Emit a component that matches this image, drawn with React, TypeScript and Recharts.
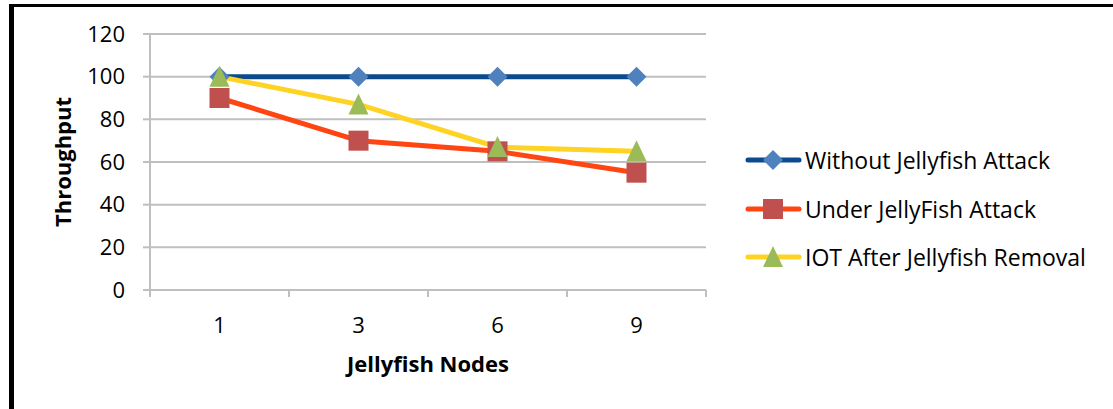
import { CartesianGrid, Legend, Line, LineChart, XAxis, YAxis } from "recharts";

const nodes = ["1", "3", "6", "9"];
const withoutAttack = [100, 100, 100, 100];
const underAttack = [90, 70, 65, 55];
const afterRemoval = [100, 87, 67, 65];
const yTicks = [0, 20, 40, 60, 80, 100, 120];

const series = [
  { key: "without", name: "Without Jellyfish Attack", values: withoutAttack, line: "#0C4A8E", marker: "#4F81BD", shape: "diamond" },
  { key: "under", name: "Under JellyFish Attack", values: underAttack, line: "#FF4612", marker: "#C0504D", shape: "square" },
  { key: "after", name: "IOT After Jellyfish Removal", values: afterRemoval, line: "#FFD324", marker: "#9BBB59", shape: "triangle" }
];

const data = nodes.map((node, i) => ({
  node,
  without: withoutAttack[i],
  under: underAttack[i],
  after: afterRemoval[i]
}));

const font = "'Open Sans', Lato, sans-serif";
const fontSize = 22;
const gridColor = "#BFBFBF";

function Marker({ cx, cy, shape, fill }: { cx: number; cy: number; shape: string; fill: string }) {
  if (shape === "diamond") {
    return <polygon points={`${cx},${cy - 10} ${cx + 10},${cy} ${cx},${cy + 10} ${cx - 10},${cy}`} fill={fill} />;
  }
  if (shape === "square") {
    return <rect x={cx - 10} y={cy - 10} width={20} height={20} fill={fill} />;
  }
  return <polygon points={`${cx},${cy - 11} ${cx + 10},${cy + 10} ${cx - 10},${cy + 10}`} fill={fill} />;
}

function NodeTick(props: any) {
  const { x, y, payload, index, visibleTicksCount } = props;
  const half = payload.offset ?? 0;
  const axisY = y - 8;
  return (
    <g>
      <line x1={x - half} x2={x - half} y1={axisY} y2={axisY + 7} stroke={gridColor} strokeWidth={2} />
      {index === visibleTicksCount - 1 && (
        <line x1={x + half} x2={x + half} y1={axisY} y2={axisY + 7} stroke={gridColor} strokeWidth={2} />
      )}
      <text x={x} y={axisY + 34} textAnchor="middle" dominantBaseline="central" fontSize={fontSize} fill="#000" fontFamily={font}>
        {payload.value}
      </text>
    </g>
  );
}

function YTitle(props: any) {
  const { viewBox } = props;
  const cx = viewBox.x + 22;
  const cy = viewBox.y + viewBox.height / 2;
  return (
    <text
      x={cx}
      y={cy}
      transform={`rotate(-90, ${cx}, ${cy})`}
      textAnchor="middle"
      dominantBaseline="central"
      fontSize={fontSize}
      fontWeight="bold"
      fontFamily={font}
      fill="#000"
    >
      Throughput
    </text>
  );
}

function XTitle(props: any) {
  const { viewBox } = props;
  return (
    <text
      x={viewBox.x + viewBox.width / 2}
      y={viewBox.y + 73}
      textAnchor="middle"
      dominantBaseline="central"
      fontSize={fontSize}
      fontWeight="bold"
      fontFamily={font}
      fill="#000"
    >
      Jellyfish Nodes
    </text>
  );
}

function LegendBox() {
  return (
    <div style={{ fontFamily: font, fontSize: 23, color: "#000" }}>
      {series.map((s) => (
        <div key={s.key} style={{ display: "flex", alignItems: "center", height: 48.5 }}>
          <svg width={57} height={24}>
            <line x1={3} x2={54} y1={12} y2={12} stroke={s.line} strokeWidth={5} strokeLinecap="round" />
            <Marker cx={28} cy={12} shape={s.shape} fill={s.marker} />
          </svg>
          <span style={{ marginLeft: 3, whiteSpace: "nowrap" }}>{s.name}</span>
        </div>
      ))}
    </div>
  );
}

export default function App() {
  return (
    <div style={{ position: "absolute", left: 0, top: 0, width: 1113, height: 409, background: "#fff", overflow: "hidden" }}>
      <div style={{ position: "absolute", left: 9, top: 4, width: 1104, height: 3, background: "#000" }} />
      <div style={{ position: "absolute", left: 9, top: 4, width: 5, height: 405, background: "#000" }} />
      <LineChart
        width={1113}
        height={409}
        data={data}
        margin={{ top: 34, left: 40, right: 407, bottom: 0 }}
        style={{ position: "absolute", left: 0, top: 0 }}
      >
        <CartesianGrid vertical={false} stroke={gridColor} strokeWidth={2} />
        <XAxis
          dataKey="node"
          scale="band"
          height={119}
          stroke={gridColor}
          strokeWidth={2}
          tickLine={false}
          tick={<NodeTick />}
          label={<XTitle />}
        />
        <YAxis
          domain={[0, 120]}
          ticks={yTicks}
          width={110}
          stroke={gridColor}
          strokeWidth={2}
          tickSize={7}
          tickMargin={18}
          tick={{ fill: "#000", fontSize, fontFamily: font }}
          label={<YTitle />}
        />
        <YAxis
          yAxisId="frame"
          orientation="right"
          domain={[0, 120]}
          width={0}
          tick={false}
          tickLine={false}
          stroke={gridColor}
          strokeWidth={2}
        />
        {series.map((s) => (
          <Line
            key={s.key}
            dataKey={s.key}
            name={s.name}
            stroke={s.line}
            strokeWidth={5}
            strokeLinejoin="round"
            isAnimationActive={false}
            dot={(p: any) => <Marker key={`${s.key}-${p.index}`} cx={p.cx} cy={p.cy} shape={s.shape} fill={s.marker} />}
            activeDot={false}
          />
        ))}
        <Legend
          layout="vertical"
          align="center"
          verticalAlign="middle"
          content={<LegendBox />}
          wrapperStyle={{ left: 745, top: 136, width: 365 }}
        />
      </LineChart>
    </div>
  );
}
